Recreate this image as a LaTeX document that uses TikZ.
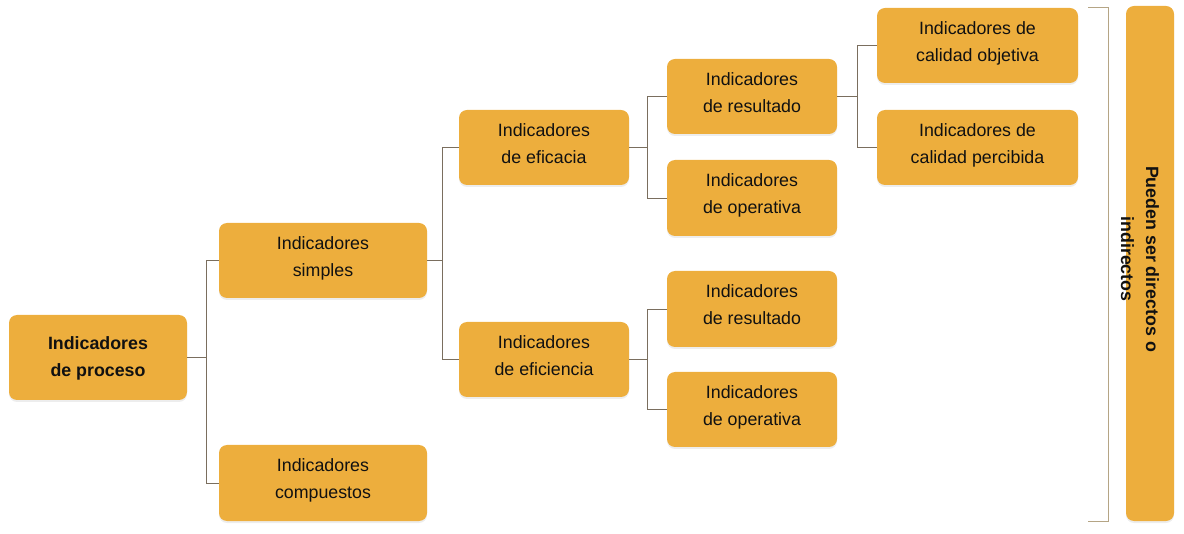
\documentclass[tikz,border=0pt]{standalone}
\usepackage{fontspec}
\setmainfont{Liberation Sans}
\usetikzlibrary{shadows}
\definecolor{boxfill}{HTML}{EDAE3D}
\definecolor{linecol}{HTML}{7A6E5E}
\definecolor{brackcol}{HTML}{B5A585}
\definecolor{txtcol}{HTML}{111111}
\tikzset{
  box/.style={fill=boxfill, rounded corners=8pt, align=center, text=txtcol,
    font=\fontsize{17.8pt}{27pt}\selectfont, inner sep=0pt, text depth=8pt,
    drop shadow={shadow xshift=0pt, shadow yshift=-2pt, opacity=0.07, fill=black}},
  conn/.style={draw=linecol, line width=0.9pt},
}
\begin{document}
\begin{tikzpicture}[x=1pt,y=-1pt]
\useasboundingbox (0,0) rectangle (1184,534);
\node[box, minimum width=178pt, minimum height=85pt, text depth=2pt, font=\fontsize{17.8pt}{27pt}\selectfont\bfseries] (proc) at (98,357.5) {Indicadores\\de proceso};
\node[box, minimum width=208pt, minimum height=75pt] (simp) at (323,260.5) {Indicadores\\simples};
\node[box, minimum width=208pt, minimum height=76pt] (comp) at (323,483) {Indicadores\\compuestos};
\node[box, minimum width=170pt, minimum height=75pt] (efic) at (544,147.5) {Indicadores\\de eficacia};
\node[box, minimum width=170pt, minimum height=75pt] (efin) at (544,359.5) {Indicadores\\de eficiencia};
\node[box, minimum width=170pt, minimum height=75pt] (res1) at (752,96.5) {Indicadores\\de resultado};
\node[box, minimum width=170pt, minimum height=76pt] (ope1) at (752,198) {Indicadores\\de operativa};
\node[box, minimum width=170pt, minimum height=76pt] (res2) at (752,309) {Indicadores\\de resultado};
\node[box, minimum width=170pt, minimum height=75pt] (ope2) at (752,409.5) {Indicadores\\de operativa};
\node[box, minimum width=201pt, minimum height=75pt] (cobj) at (977.5,45.5) {Indicadores de\\calidad objetiva};
\node[box, minimum width=201pt, minimum height=75pt] (cper) at (977.5,147.5) {Indicadores de\\calidad percibida};
\node[box, minimum width=48pt, minimum height=515pt] (side) at (1150,263.5) {};
\node[rotate=-90, align=center, text=txtcol, font=\fontsize{17.8pt}{25pt}\selectfont\bfseries] (sidetxt) at (1140,259) {Pueden ser directos o\\indirectos};
% connectors
\draw[conn] (proc.east) -- ([xshift=19pt]proc.east) |- (simp.west);
\draw[conn] ([xshift=19pt]proc.east) |- (comp.west);
\draw[conn] (simp.east) -- ([xshift=15pt]simp.east) |- (efic.west);
\draw[conn] ([xshift=15pt]simp.east) |- (efin.west);
\draw[conn] (efic.east) -- ([xshift=18pt]efic.east) |- (res1.west);
\draw[conn] ([xshift=18pt]efic.east) |- (ope1.west);
\draw[conn] (efin.east) -- ([xshift=18pt]efin.east) |- (res2.west);
\draw[conn] ([xshift=18pt]efin.east) |- (ope2.west);
\draw[conn] (res1.east) -- ([xshift=20pt]res1.east) |- (cobj.west);
\draw[conn] ([xshift=20pt]res1.east) |- (cper.west);
% bracket
\coordinate (bt) at (1088,8);
\coordinate (bb) at (1088,521);
\draw[draw=brackcol, line width=1pt] (bt) -- ++(20,0) -- ++(0,513) -- (bb);
\end{tikzpicture}
\end{document}
